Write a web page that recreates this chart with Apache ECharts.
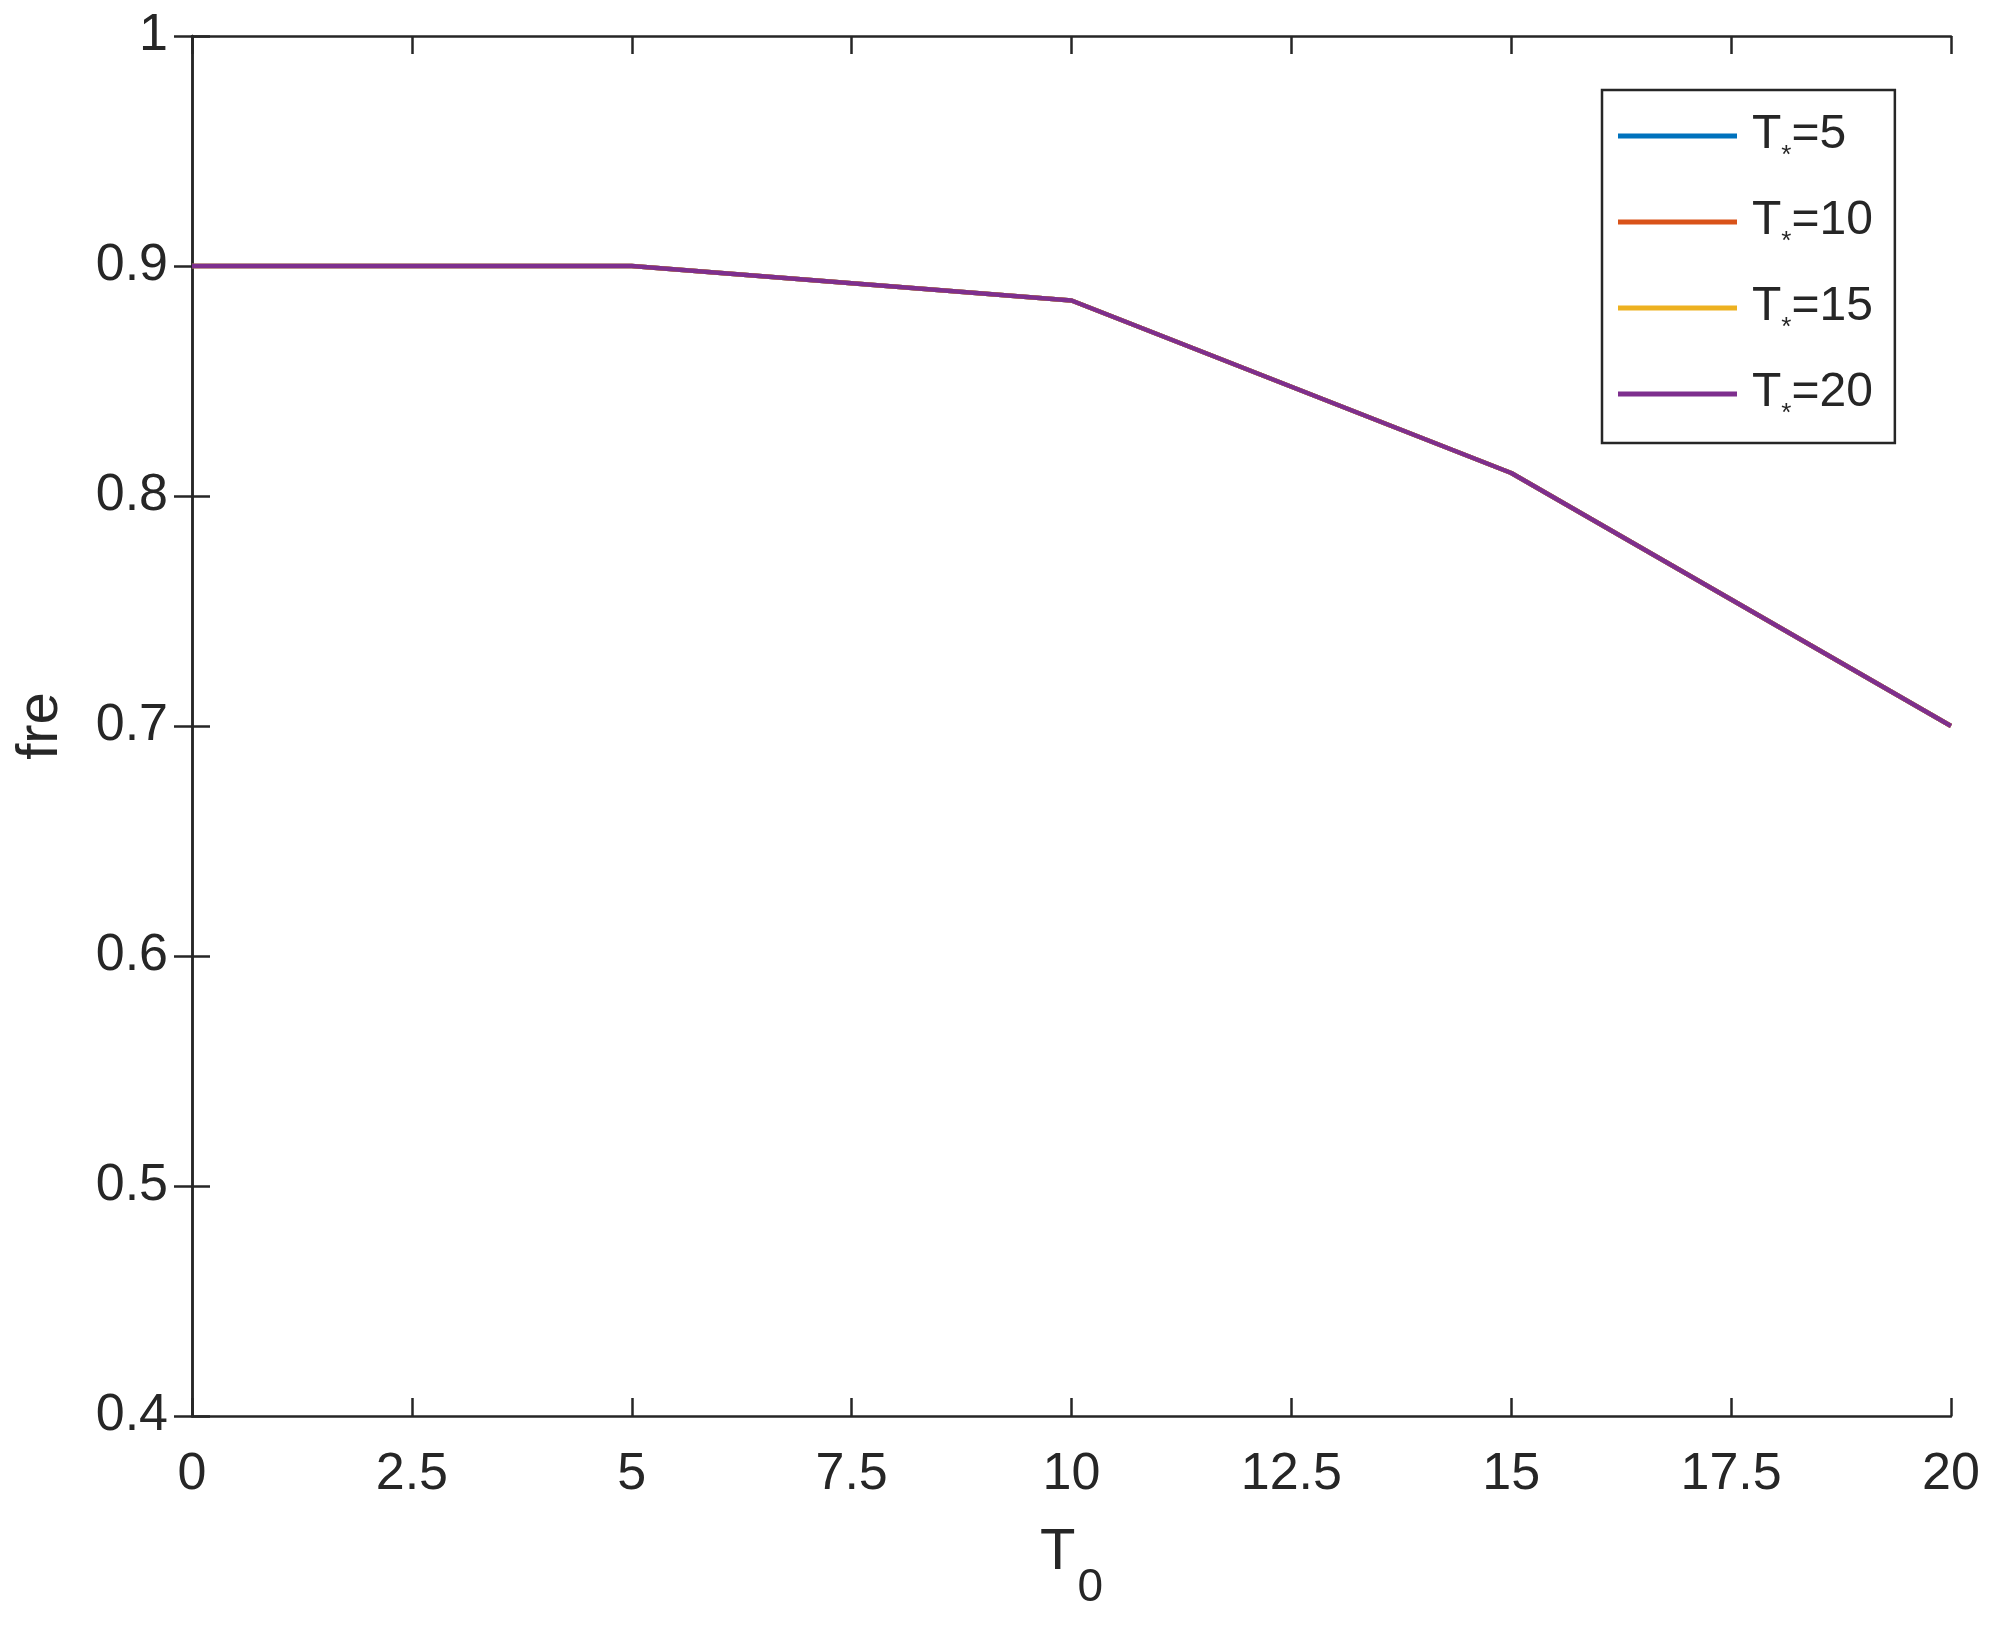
<!DOCTYPE html>
<html>
<head>
<meta charset="utf-8">
<script src="https://cdn.jsdelivr.net/npm/echarts@6/dist/echarts.min.js"></script>
<style>
html,body{margin:0;padding:0;background:#fff;}
#chart{width:1999px;height:1627px;}
</style>
</head>
<body>
<div id="chart"></div>
<script>
// x values (T0)
const t0Values = [0, 5, 10, 15, 20];
// legend parameter values (T*)
const tStarValues = [5, 10, 15, 20];
// fre values for each T* (curves overlap in the picture)
const freT5  = [0.900, 0.900, 0.885, 0.810, 0.700];
const freT10 = [0.900, 0.900, 0.885, 0.810, 0.700];
const freT15 = [0.900, 0.900, 0.885, 0.810, 0.700];
const freT20 = [0.900, 0.900, 0.885, 0.810, 0.700];
const seriesValues = [freT5, freT10, freT15, freT20];
const colors = ['#0072BD', '#D95319', '#EDB120', '#7E2F8E'];

const FONT = '"Liberation Sans", Arial, Helvetica, sans-serif';
const INK = '#262626';

const names = tStarValues.map(v => 'T*=' + v);

const series = seriesValues.map((vals, i) => ({
  name: names[i],
  type: 'line',
  xAxisIndex: 0,
  yAxisIndex: 0,
  symbol: 'none',
  data: t0Values.map((x, j) => [x, vals[j]]),
  lineStyle: { color: colors[i], width: 4.5 },
  itemStyle: { color: colors[i] },
  animation: false
}));

const tickStyle = { show: true, inside: true, length: 18, lineStyle: { color: INK, width: 2.5 } };
const lineStyle = { show: true, lineStyle: { color: INK, width: 2.5 } };

const option = {
  backgroundColor: '#ffffff',
  animation: false,
  grid: { left: 192, right: 48, top: 36, bottom: 211, containLabel: false, outerBoundsMode: 'none' },
  legend: {
    orient: 'vertical',
    left: 1602,
    top: 90,
    padding: [21, 22, 16, 16],
    itemGap: 28,
    itemWidth: 119,
    itemHeight: 5,
    icon: 'rect',
    backgroundColor: '#ffffff',
    borderColor: INK,
    borderWidth: 2.5,
    borderRadius: 0,
    data: names,
    formatter: function (name) {
      const v = name.split('=')[1];
      return '{t|T}{s|*}{t|=' + v + '}';
    },
    textStyle: {
      padding: [0, 0, 0, 10],
      rich: {
        t: { fontFamily: FONT, fontSize: 48, color: INK, lineHeight: 50, verticalAlign: 'top' },
        s: { fontFamily: FONT, fontSize: 26, color: INK, lineHeight: 2, verticalAlign: 'top', padding: [32, 0, 0, 0] }
      }
    }
  },
  xAxis: [
    {
      type: 'value',
      position: 'bottom',
      min: 0, max: 20, interval: 2.5,
      axisLine: lineStyle,
      axisTick: tickStyle,
      splitLine: { show: false },
      axisLabel: { fontFamily: FONT, fontSize: 52, color: INK, margin: 33 },
      name: '{a|T}{b|0}',
      nameLocation: 'middle',
      nameGap: 108,
      nameTextStyle: {
        rich: {
          a: { fontFamily: FONT, fontSize: 58, color: INK, lineHeight: 60, verticalAlign: 'top' },
          b: { fontFamily: FONT, fontSize: 46, color: INK, lineHeight: 2, verticalAlign: 'top', padding: [41, 0, 0, 2] }
        }
      }
    },
    {
      type: 'value',
      position: 'top',
      min: 0, max: 20, interval: 2.5,
      axisLine: lineStyle,
      axisTick: tickStyle,
      axisLabel: { show: false },
      splitLine: { show: false }
    }
  ],
  yAxis: [
    {
      type: 'value',
      position: 'left',
      min: 0.4, max: 1, interval: 0.1,
      axisLine: lineStyle,
      axisTick: tickStyle,
      splitLine: { show: false },
      axisLabel: { fontFamily: FONT, fontSize: 52, color: INK, margin: 24 },
      name: 'fre',
      nameLocation: 'middle',
      nameRotate: 90,
      nameGap: 122,
      nameTextStyle: { fontFamily: FONT, fontSize: 58, color: INK }
    },
    {
      type: 'value',
      position: 'right',
      min: 0.4, max: 1, interval: 0.1,
      axisLine: lineStyle,
      axisTick: tickStyle,
      axisLabel: { show: false },
      splitLine: { show: false }
    }
  ],
  series: series
};

const chart = echarts.init(document.getElementById('chart'), null, { renderer: 'canvas' });
chart.setOption(option);
</script>
</body>
</html>
